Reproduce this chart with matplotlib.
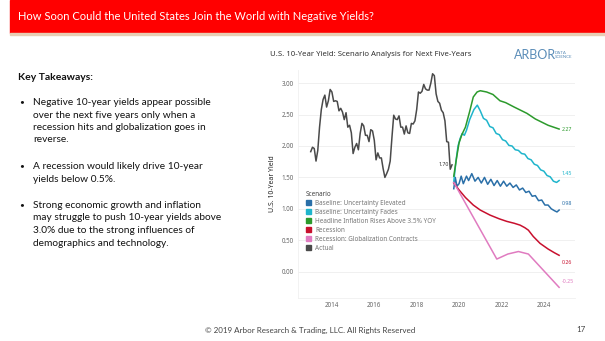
# slide: US 10-year yield scenario analysis

import matplotlib.pyplot as plt
from matplotlib.patches import Rectangle
import numpy as np

# monthly average 10-year yield, Jan 2013 - Sep 2019
actual_vals = [1.91, 1.98, 1.96, 1.76, 1.93, 2.30, 2.58, 2.74, 2.81, 2.62, 2.72, 2.90,
               2.86, 2.71, 2.72, 2.71, 2.56, 2.60, 2.54, 2.42, 2.53, 2.30, 2.33, 2.21,
               1.88, 1.98, 2.04, 1.94, 2.20, 2.36, 2.32, 2.17, 2.17, 2.07, 2.26, 2.24,
               2.09, 1.78, 1.89, 1.81, 1.81, 1.64, 1.50, 1.56, 1.63, 1.76, 2.14, 2.49,
               2.43, 2.42, 2.48, 2.30, 2.30, 2.19, 2.32, 2.21, 2.20, 2.36, 2.35, 2.40,
               2.58, 2.86, 2.84, 2.87, 2.98, 2.91, 2.89, 2.89, 3.00, 3.15, 3.12, 2.83,
               2.71, 2.68, 2.57, 2.53, 2.40, 2.07, 2.06, 1.63, 1.70]
actual_t = [2013 + i / 12 for i in range(len(actual_vals))]

elev_t = [2019.75, 2019.82, 2019.9, 2020.0, 2020.1, 2020.2, 2020.35, 2020.45, 2020.6,
          2020.75, 2020.9, 2021.05, 2021.2, 2021.35, 2021.5, 2021.65, 2021.8, 2021.95,
          2022.1, 2022.25, 2022.4, 2022.55, 2022.7, 2022.85, 2023.0, 2023.15, 2023.3,
          2023.45, 2023.6, 2023.75, 2023.9, 2024.05, 2024.2, 2024.35, 2024.5, 2024.62, 2024.72]
elev_v = [1.32, 1.50, 1.36, 1.40, 1.52, 1.40, 1.52, 1.45, 1.56,
          1.44, 1.50, 1.41, 1.50, 1.39, 1.47, 1.37, 1.45, 1.36,
          1.44, 1.36, 1.41, 1.34, 1.38, 1.30, 1.33, 1.26, 1.28,
          1.20, 1.21, 1.13, 1.14, 1.06, 1.06, 1.00, 0.97, 0.95, 0.98]

fades_t = [2019.75, 2019.85, 2019.95, 2020.05, 2020.15, 2020.25, 2020.35, 2020.5, 2020.7,
           2020.86, 2021.0, 2021.15, 2021.3, 2021.45, 2021.6, 2021.75, 2021.9, 2022.05,
           2022.2, 2022.35, 2022.5, 2022.65, 2022.8, 2022.95, 2023.1, 2023.25, 2023.4,
           2023.55, 2023.7, 2023.85, 2024.0, 2024.15, 2024.3, 2024.45, 2024.6, 2024.72]
fades_v = [1.43, 1.75, 2.00, 2.12, 2.20, 2.17, 2.25, 2.42, 2.58,
           2.65, 2.56, 2.44, 2.41, 2.31, 2.29, 2.20, 2.18, 2.10,
           2.08, 2.01, 2.00, 1.94, 1.93, 1.88, 1.87, 1.80, 1.78,
           1.71, 1.69, 1.62, 1.60, 1.53, 1.51, 1.44, 1.42, 1.45]

infl_t = [2019.75, 2019.9, 2020.0, 2020.13, 2020.3, 2020.5, 2020.67, 2020.85, 2021.0,
          2021.3, 2021.6, 2021.93, 2022.2, 2022.6, 2023.2, 2023.6, 2024.2, 2024.72]
infl_v = [1.52, 1.85, 2.05, 2.18, 2.30, 2.55, 2.78, 2.86, 2.88,
          2.86, 2.82, 2.72, 2.69, 2.62, 2.52, 2.43, 2.33, 2.27]

rec_t = [2019.75, 2020.0, 2020.3, 2020.67, 2021.0, 2021.46, 2021.9, 2022.25, 2022.6,
         2022.88, 2023.1, 2023.27, 2023.5, 2023.82, 2024.2, 2024.5, 2024.72]
rec_v = [1.41, 1.30, 1.18, 1.06, 0.98, 0.90, 0.84, 0.80, 0.77,
         0.74, 0.70, 0.66, 0.56, 0.45, 0.36, 0.30, 0.26]

glob_t = [2019.75, 2021.78, 2022.3, 2022.8, 2023.27, 2024.72]
glob_v = [1.42, 0.20, 0.28, 0.32, 0.28, -0.25]

scenarios = ['Baseline: Uncertainty Elevated', 'Baseline: Uncertainty Fades',
             'Headline Inflation Rises Above 3.5% YOY', 'Recession',
             'Recession: Globalization Contracts', 'Actual']
colors = ['#2a6fa8', '#1fb5cc', '#2c9a2c', '#c8102e', '#e07bc0', '#4a4a4a']

takeaways = [
    'Negative 10-year yields appear possible\nover the next five years only when a\n'
    'recession hits and globalization goes in\nreverse.',
    'A recession would likely drive 10-year\nyields below 0.5%.',
    'Strong economic growth and inflation\nmay struggle to push 10-year yields above\n'
    '3.0% due to the strong influences of\ndemographics and technology.',
]

slide_font = ['Lato', 'DejaVu Sans']
chart_font = ['Noto Sans', 'DejaVu Sans']

fig = plt.figure(figsize=(6.05, 3.41), dpi=100)
W, H = 605, 341

# red header band
fig.patches.append(Rectangle((10 / W, 1 - 33 / H), 1 - 10 / W, 33 / H,
                             transform=fig.transFigure, color='#ff0000', zorder=0))
fig.patches.append(Rectangle((10 / W, 1 - 35 / H), 1 - 10 / W, 2 / H,
                             transform=fig.transFigure, color='#e8cdb4', zorder=0))
fig.text(18 / W, 1 - 16 / H, 'How Soon Could the United States Join the World with Negative Yields?',
         color='white', fontsize=8, family=slide_font, va='center', ha='left')

# left text block
fig.text(18 / W, 1 - 77 / H, 'Key Takeaways:', fontsize=7.5, fontweight='bold',
         family=slide_font, va='center', color='#111111')
tops = [98, 162, 201]
for top, txt in zip(tops, takeaways):
    fig.text(19 / W, 1 - top / H, '•', fontsize=6, family=slide_font, va='top',
             color='#111111')
    fig.text(33 / W, 1 - top / H, txt, fontsize=7.3, family=slide_font,
             va='top', ha='left', linespacing=1.5, color='#111111')

# footer
fig.text(310 / W, 1 - 330 / H, '© 2019 Arbor Research & Trading, LLC. All Rights Reserved',
         fontsize=5.8, family=slide_font, ha='center', va='center', color='#444444')
fig.text(581 / W, 1 - 330 / H, '17', fontsize=5.8, family=slide_font, ha='center',
         va='center', color='#444444')

# chart title and logo
fig.text(270 / W, 1 - 55 / H, 'U.S. 10-Year Yield: Scenario Analysis for Next Five-Years',
         fontsize=5.6, fontweight='bold', family=chart_font, va='center', color='#333333')
fig.text(514 / W, 1 - 55 / H, 'ARBOR', fontsize=9, family=slide_font, va='center',
         color='#5b8db8')
fig.text(555 / W, 1 - 55 / H, 'DATA\nSCIENCE', fontsize=3.2, family=slide_font,
         va='center', color='#5b8db8', linespacing=1.0)

ax = fig.add_axes([298 / W, 1 - 298 / H, 277 / W, 228 / H])
ax.set_xlim(2012.4, 2025.47)
ax.set_ylim(-0.42, 3.21)

series = [(elev_t, elev_v), (fades_t, fades_v), (infl_t, infl_v),
          (rec_t, rec_v), (glob_t, glob_v), (actual_t, actual_vals)]
for (t, v), name, c in zip(series, scenarios, colors):
    ax.plot(t, v, color=c, lw=1.1, label=name)

# end labels
for (t, v), c, dy in zip(series[:5], colors[:5], [5, 5, 0, -5, 4]):
    ax.annotate(f'{v[-1]:.2f}', (t[-1], v[-1]), xytext=(2, dy), textcoords='offset points',
                fontsize=3.8, color=c, fontweight='bold', va='center', family=chart_font)
ax.annotate(f'{actual_vals[-1]:.2f}', (actual_t[-1], actual_vals[-1]), xytext=(-2, 0),
            textcoords='offset points', fontsize=3.8, color='#333333', ha='right',
            va='center', fontweight='bold', family=chart_font)

ax.set_yticks([0, 0.5, 1.0, 1.5, 2.0, 2.5, 3.0])
ax.set_yticklabels([f'{y:.2f}' for y in ax.get_yticks()])
ax.set_xticks([2014, 2016, 2018, 2020, 2022, 2024])
ax.tick_params(length=0, labelsize=4.5, labelcolor='#666666', pad=3)
for lab in ax.get_xticklabels() + ax.get_yticklabels():
    lab.set_family(chart_font)
ax.set_ylabel('U.S. 10-Year Yield', fontsize=5, fontweight='bold', color='#222222',
              family=chart_font, labelpad=4)
ax.grid(axis='y', color='#eeeeee', lw=0.6)
for s in ['top', 'right']:
    ax.spines[s].set_visible(False)
for s in ['left', 'bottom']:
    ax.spines[s].set_color('#f0f0f0')
    ax.spines[s].set_linewidth(0.6)

handles = [Rectangle((0, 0), 1, 1, color=c) for c in colors]
leg = ax.legend(handles, scenarios, title='Scenario', loc='upper left',
                bbox_to_anchor=(0.02, 0.48), frameon=False,
                title_fontsize=4.6, handlelength=0.8, handleheight=0.8,
                handletextpad=0.6, labelspacing=0.3, borderaxespad=0,
                prop={'family': chart_font, 'size': 4.6})
leg._legend_box.align = 'left'
for t in leg.get_texts():
    t.set_color('#777777')
leg.get_title().set_color('#444444')
leg.get_title().set_family(chart_font)

plt.savefig('out.png', dpi=100)
